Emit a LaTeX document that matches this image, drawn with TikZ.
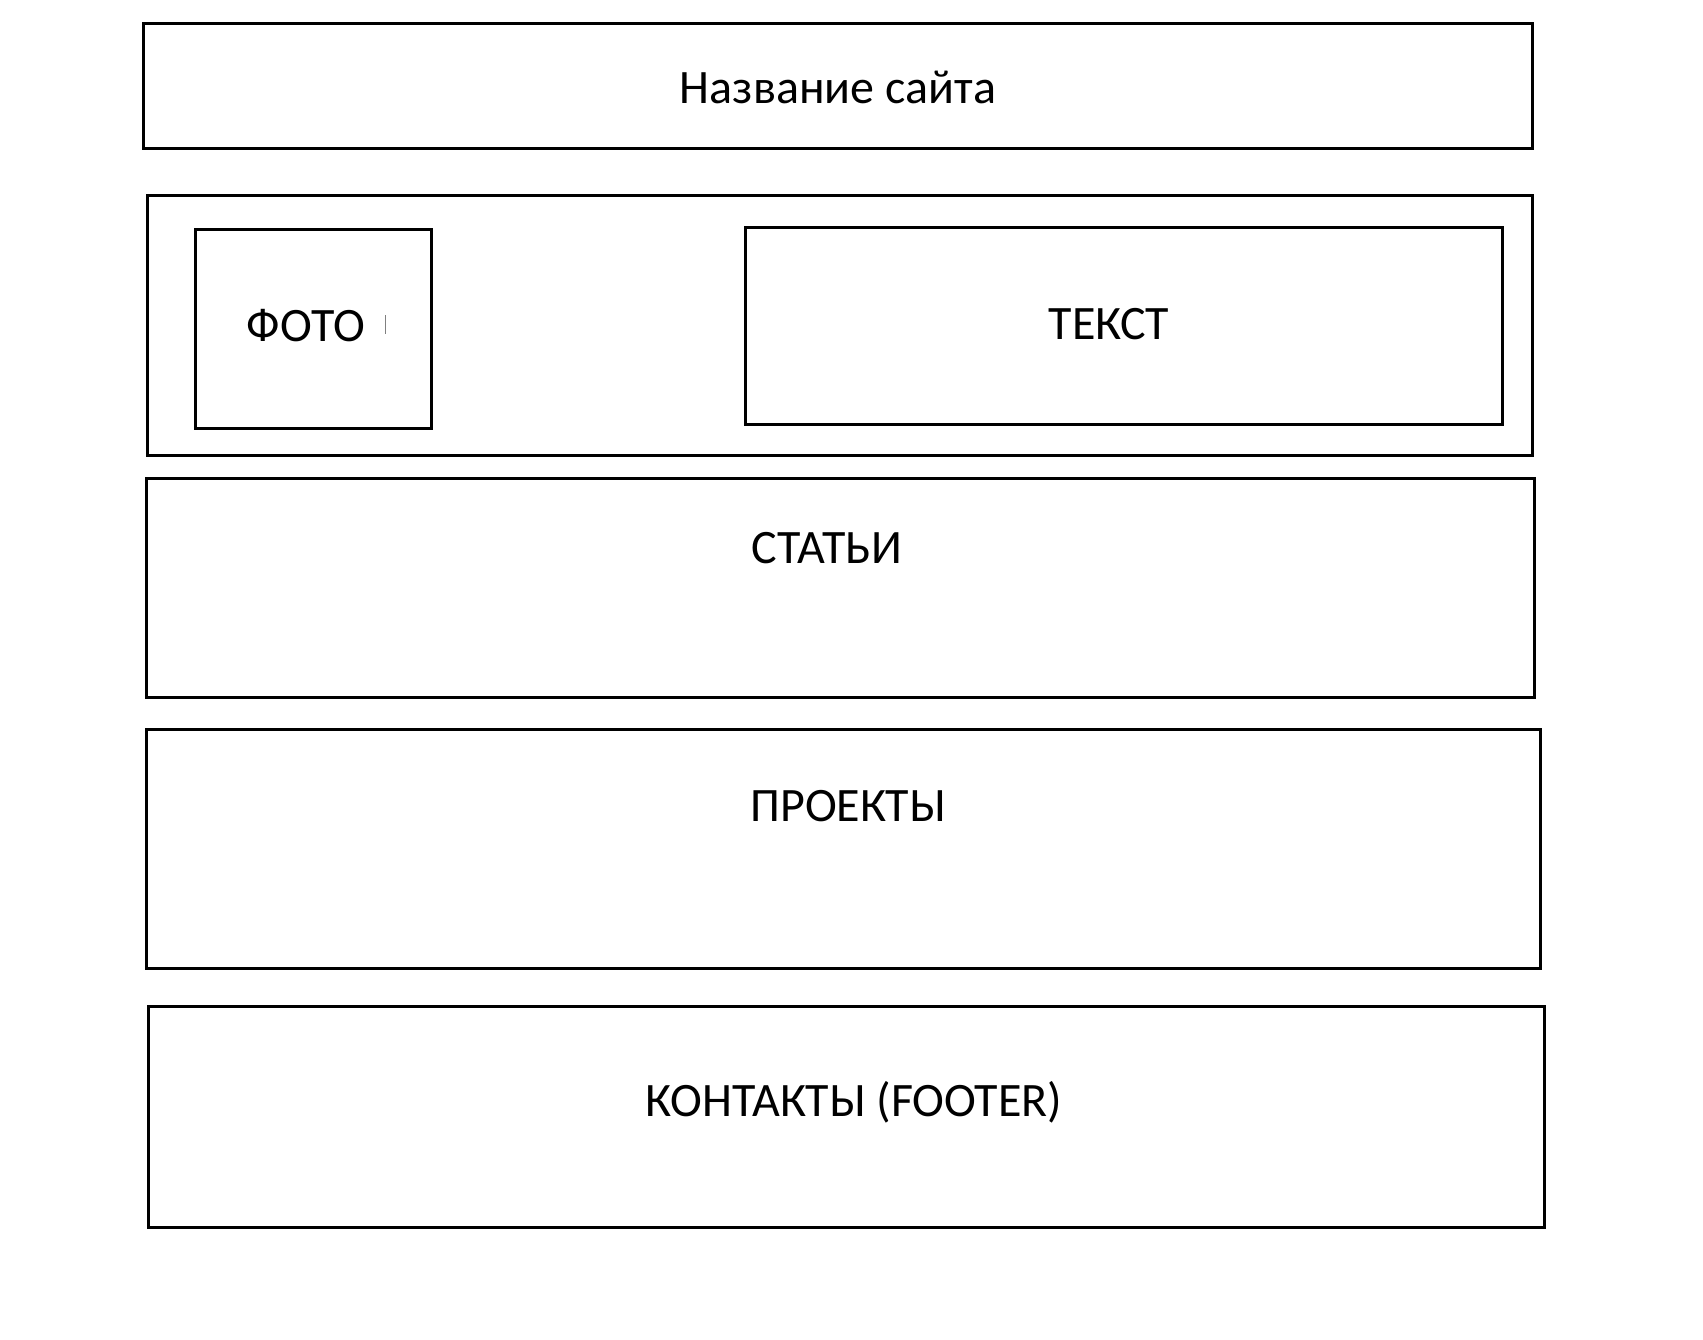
\documentclass[tikz,border=0pt]{standalone}
\usepackage{fontspec}
\setmainfont{Carlito}
\begin{document}
\begin{tikzpicture}[x=1pt,y=-1pt,
                       block/.style={rectangle,draw,line width=3pt,inner sep=0pt,outer sep=0pt},
                       caption/.style={inner sep=0pt,font=\fontsize{48}{58}\selectfont}
                      ]
  \useasboundingbox (0,0) rectangle (1703,1339);
  \node[block,minimum width=1389pt,minimum height=125pt] (header) at (837.5,85.5) {};
  \node[block,minimum width=1385pt,minimum height=260pt] (hero) at (839.5,325) {};
  \node[block,minimum width=236pt,minimum height=199pt] (photo) at (313,328.5) {};
  \node[block,minimum width=757pt,minimum height=197pt] (text) at (1123.5,325.5) {};
  \node[block,minimum width=1388pt,minimum height=219pt] (articles) at (840,587.5) {};
  \node[block,minimum width=1394pt,minimum height=239pt] (projects) at (843,848.5) {};
  \node[block,minimum width=1396pt,minimum height=221pt] (contacts) at (846,1116.5) {};

  \node[caption] (headerlabel) at (838,87) {Название сайта};
  \node[caption] (photolabel) at (306,326) {ФОТО};
  \node[caption] (textlabel) at (1109,324) {ТЕКСТ};
  \node[caption] (articleslabel) at (827,548) {СТАТЬИ};
  \node[caption] (projectslabel) at (848,806) {ПРОЕКТЫ};
  \node[caption] (contactslabel) at (854,1102) {КОНТАКТЫ (FOOTER)};

  \draw[gray,line width=1.5pt] (385.5,315) -- (385.5,334);
\end{tikzpicture}
\end{document}
